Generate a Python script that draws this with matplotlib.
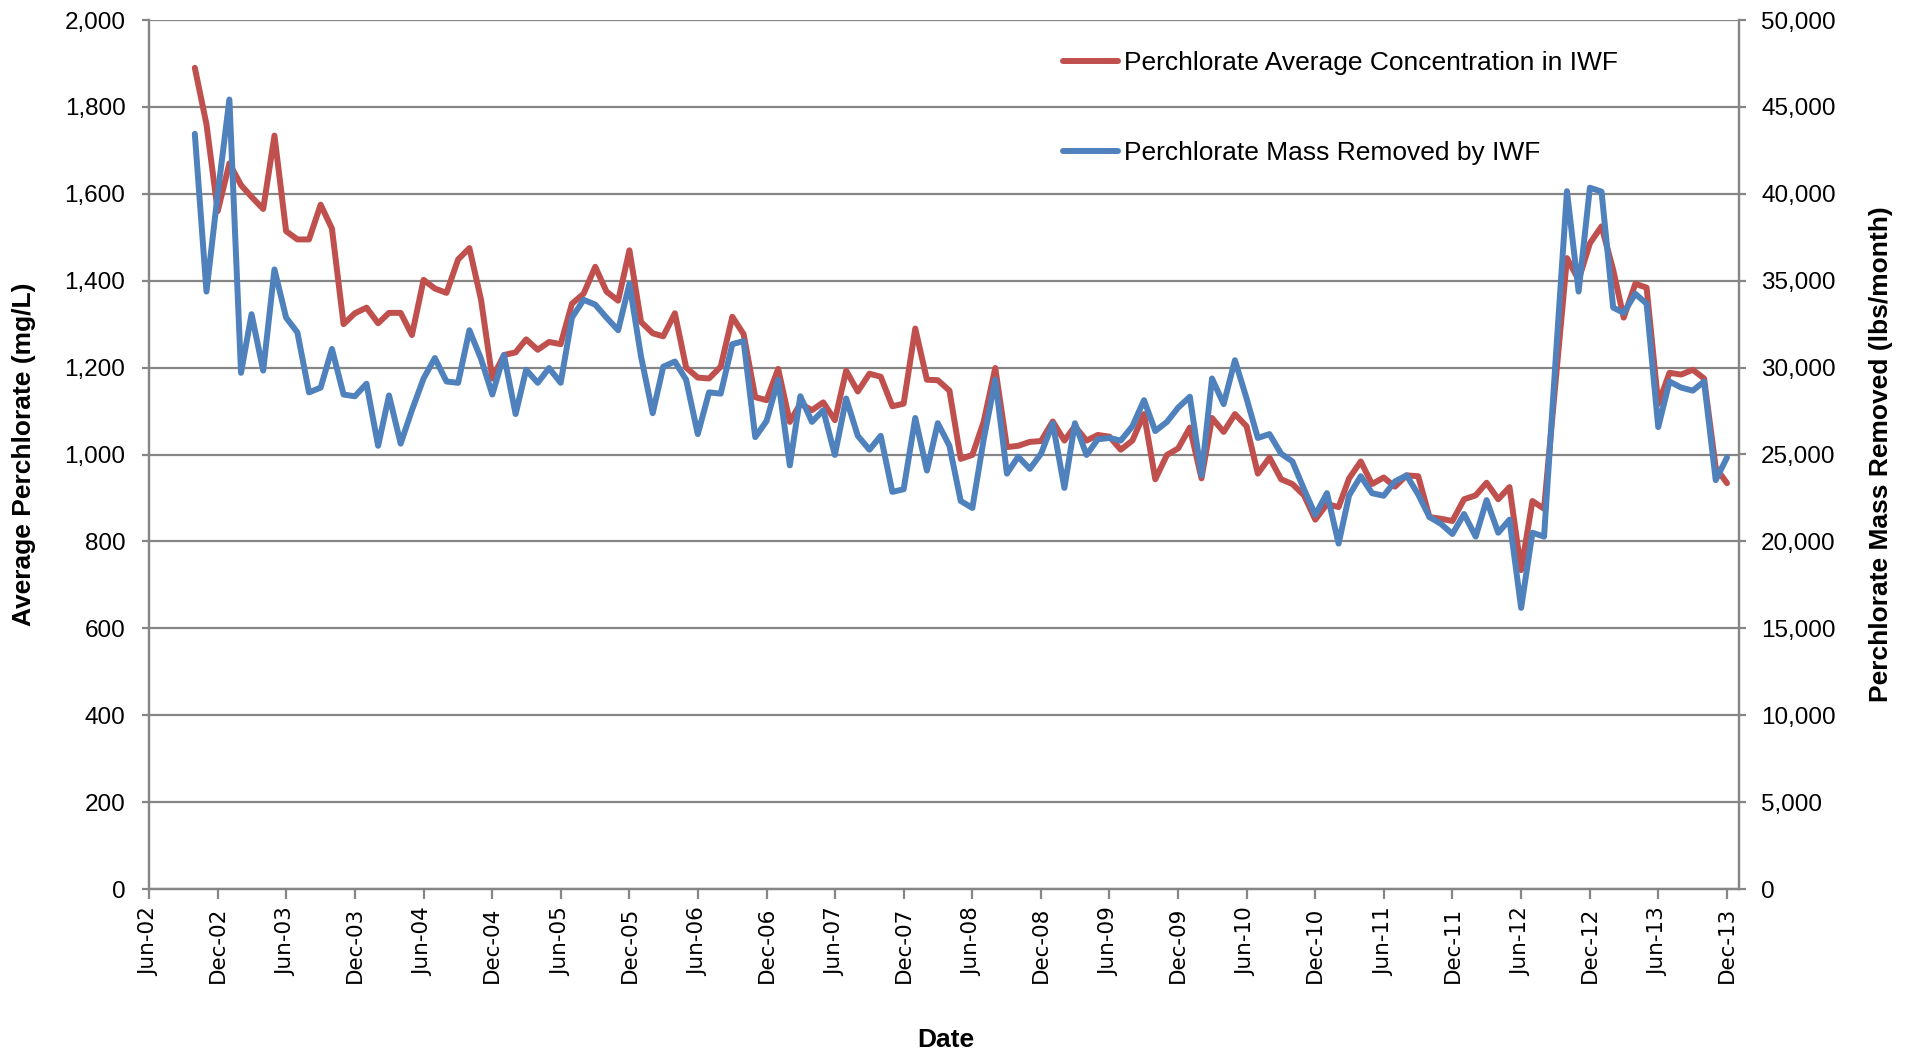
import matplotlib
matplotlib.use("Agg")
import matplotlib.pyplot as plt
import matplotlib.dates as mdates
from matplotlib.ticker import FuncFormatter, MultipleLocator
import pandas as pd

# monthly values, Oct-2002 .. Dec-2013
FIRST_MONTH = "2002-10-01"

# average perchlorate concentration in IWF (mg/L, left axis)
CONC_MG_L = [
    1890, 1760, 1560, 1670, 1620, 1593, 1565, 1734, 1514, 1495, 1495, 1575,
    1520, 1300, 1325, 1338, 1302, 1326, 1326, 1275, 1402, 1382, 1372, 1449,
    1475, 1356, 1175, 1229, 1235, 1265, 1241, 1259, 1254, 1347, 1370, 1432,
    1375, 1354, 1470, 1305, 1279, 1272, 1325, 1200, 1177, 1175, 1202, 1317,
    1277, 1132, 1125, 1197, 1075, 1117, 1102, 1120, 1079, 1193, 1145, 1186,
    1179, 1111, 1117, 1290, 1172, 1171, 1147, 990, 999, 1075, 1199, 1017,
    1020, 1029, 1031, 1076, 1032, 1065, 1032, 1045, 1041, 1011, 1032, 1093,
    943, 999, 1014, 1062, 945, 1084, 1052, 1093, 1065, 956, 993, 943,
    932, 906, 850, 886, 879, 945, 984, 932, 947, 926, 952, 950,
    856, 852, 847, 897, 906, 935, 897, 925, 734, 893, 875, 1170,
    1452, 1402, 1486, 1525, 1425, 1315, 1393, 1384, 1116, 1188, 1184, 1195,
    1175, 970, 934,
]

# perchlorate mass removed by IWF (lbs/month, right axis)
MASS_LBS = [
    43450, 34375, 40000, 45425, 29700, 33075, 29825, 35650, 32875, 32025, 28575, 28850,
    31075, 28450, 28350, 29075, 25500, 28400, 25625, 27550, 29375, 30550, 29200, 29125,
    32150, 30500, 28450, 30725, 27325, 29875, 29125, 29975, 29125, 32875, 33900, 33625,
    32875, 32150, 34825, 30625, 27375, 30050, 30350, 29300, 26175, 28575, 28500, 31350,
    31525, 26000, 26925, 29300, 24375, 28350, 26875, 27550, 24975, 28225, 26075, 25275,
    26075, 22850, 23000, 27100, 24075, 26800, 25500, 22325, 21925, 25850, 29300, 23900,
    24875, 24175, 25050, 26800, 23075, 26800, 24975, 25875, 25950, 25800, 26625, 28125,
    26350, 26875, 27700, 28325, 23800, 29375, 27900, 30425, 28225, 25950, 26175, 25050,
    24600, 23000, 21525, 22775, 19875, 22650, 23750, 22775, 22625, 23450, 23800, 22700,
    21400, 21000, 20425, 21575, 20275, 22375, 20500, 21250, 16175, 20500, 20275, 30500,
    40150, 34375, 40350, 40125, 33450, 33150, 34250, 33675, 26575, 29200, 28850, 28675,
    29200, 23525, 24825,
]

CONC_LABEL = "Perchlorate Average Concentration in IWF"
MASS_LABEL = "Perchlorate Mass Removed by IWF"

RED = "#C0504D"
BLUE = "#4F81BD"
GREY = "#868686"
SANS = ["Liberation Sans", "DejaVu Sans"]

assert len(CONC_MG_L) == len(MASS_LBS)
dates = pd.date_range(FIRST_MONTH, periods=len(CONC_MG_L), freq="MS")

W, H = 1915, 1052
fig = plt.figure(figsize=(W / 100, H / 100), dpi=100)
ax = fig.add_axes([149 / W, 1 - 889 / H, 1590 / W, 869 / H])
ax2 = ax.twinx()

(l1,) = ax.plot(dates, CONC_MG_L, color=RED, lw=4.3, solid_joinstyle="round",
                solid_capstyle="round", label=CONC_LABEL, zorder=3)
(l2,) = ax2.plot(dates, MASS_LBS, color=BLUE, lw=4.3, solid_joinstyle="round",
                 solid_capstyle="round", label=MASS_LABEL, zorder=3)

ax.set_xlim(pd.Timestamp("2002-06-01"), pd.Timestamp("2014-01-02"))
ax.set_ylim(0, 2000)
ax2.set_ylim(0, 50000)

ax.yaxis.set_major_locator(MultipleLocator(200))
ax2.yaxis.set_major_locator(MultipleLocator(5000))
comma = FuncFormatter(lambda v, _: f"{v:,.0f}")
ax.yaxis.set_major_formatter(comma)
ax2.yaxis.set_major_formatter(comma)

ax.xaxis.set_major_locator(mdates.MonthLocator(bymonth=(6, 12), bymonthday=1))
ax.xaxis.set_major_formatter(mdates.DateFormatter("%b-%y"))

ax.grid(axis="y", color=GREY, lw=1.6)
ax.set_axisbelow(True)
for a in (ax, ax2):
    for side in ("left", "right", "bottom"):
        a.spines[side].set_color(GREY)
        a.spines[side].set_linewidth(1.6)
    a.spines["top"].set_visible(False)

ax.tick_params(axis="x", direction="out", length=7, width=1.6, color=GREY,
               labelsize=15.5, pad=6, labelrotation=90)
ax.tick_params(axis="y", direction="out", length=5, width=1.6, color=GREY,
               labelsize=17.5, pad=12)
ax2.tick_params(axis="y", direction="out", length=5, width=1.6, color=GREY,
                labelsize=17.5, pad=11)
for lab in ax.get_yticklabels() + ax2.get_yticklabels():
    lab.set_family(SANS)
for lab in ax.get_xticklabels():
    lab.set_family(["DejaVu Sans"])

fig.text(24 / W, 1 - 454 / H, "Average Perchlorate (mg/L)", rotation=90,
         ha="center", va="center", fontsize=19, fontweight="bold", family=SANS)
fig.text(1881 / W, 1 - 454 / H, "Perchlorate Mass Removed (lbs/month)", rotation=90,
         ha="center", va="center", fontsize=19, fontweight="bold", family=SANS)
fig.text(946 / W, 1 - 1040 / H, "Date", ha="center", va="center",
         fontsize=19, fontweight="bold", family=SANS)

leg = ax2.legend([l1, l2], [CONC_LABEL, MASS_LABEL], loc="upper left",
                 bbox_to_anchor=((1063 - 149) / 1590, (889 - 51) / 869),
                 frameon=False, borderaxespad=0, borderpad=0, handlelength=2.1,
                 handletextpad=0.22, labelspacing=2.5,
                 prop={"family": SANS, "size": 19})

fig.savefig("out.png", dpi=100)
